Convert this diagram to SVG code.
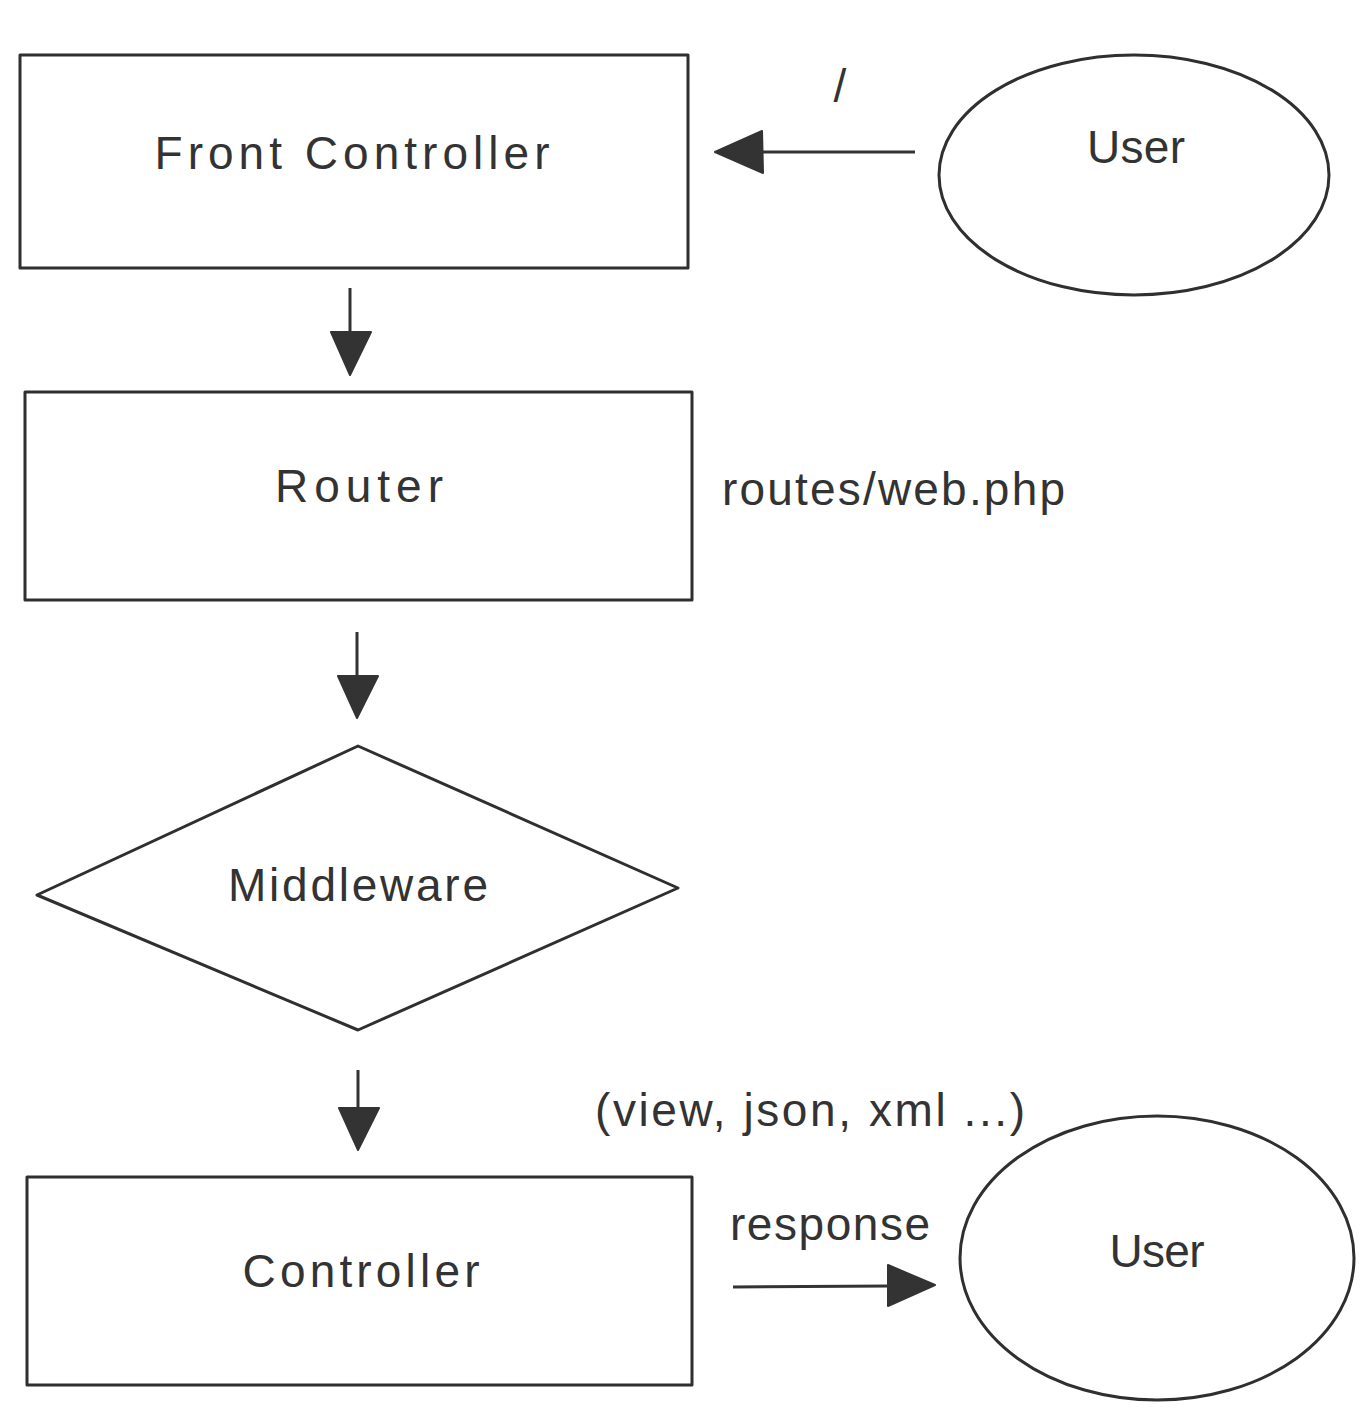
<svg xmlns="http://www.w3.org/2000/svg" width="1368" height="1416" viewBox="0 0 1368 1416">
<style>
.shape{fill:none;stroke:#2f2f2f;stroke-width:3;stroke-linejoin:round}
.conn{fill:none;stroke:#333;stroke-width:3}
.head{fill:#333;stroke:#333;stroke-width:2;stroke-linejoin:round}
.lbl{font-family:"Liberation Sans",Arial,sans-serif;fill:#333;text-anchor:middle;dominant-baseline:middle;font-size:46px}
.note{font-family:"Liberation Sans",Arial,sans-serif;fill:#333;font-size:46px}
</style>
<rect width="1368" height="1416" fill="#fff"/>
<g id="front-controller">
<rect class="shape" x="20" y="55" width="668" height="213"/>
<text class="lbl" x="352" y="157" textLength="395" lengthAdjust="spacing">Front Controller</text>
</g>
<g id="user-top">
<ellipse class="shape" cx="1134" cy="175" rx="195" ry="120"/>
<text class="lbl" x="1136" y="151" textLength="98" lengthAdjust="spacing">User</text>
</g>
<g id="router">
<rect class="shape" x="25" y="392" width="667" height="208"/>
<text class="lbl" x="359" y="490" textLength="168" lengthAdjust="spacing">Router</text>
</g>
<g id="routes-note">
<text class="note" x="722" y="505" textLength="343" lengthAdjust="spacing">routes/web.php</text>
</g>
<g id="middleware">
<polygon class="shape" points="358,746 678,888 358,1030 37,895"/>
<text class="lbl" x="358" y="889" textLength="260" lengthAdjust="spacing">Middleware</text>
</g>
<g id="controller">
<rect class="shape" x="27" y="1177" width="665" height="208"/>
<text class="lbl" x="361" y="1275" textLength="237" lengthAdjust="spacing">Controller</text>
</g>
<g id="user-bottom">
<ellipse class="shape" cx="1157" cy="1258" rx="197" ry="142"/>
<text class="lbl" x="1157" y="1255" textLength="95" lengthAdjust="spacing">User</text>
</g>
<g id="formats-note">
<text class="note" x="595" y="1126" textLength="430" lengthAdjust="spacing">(view, json, xml ...)</text>
</g>
<g id="connectors">
<line class="conn" x1="915" y1="152" x2="760" y2="152"/>
<polygon class="head" points="715,152 762,131 763,173"/>
<text class="note" x="840" y="102" text-anchor="middle">/</text>
<line class="conn" x1="350" y1="288" x2="350" y2="335"/>
<polygon class="head" points="331,332 371,332 350,375"/>
<line class="conn" x1="357" y1="632" x2="357" y2="678"/>
<polygon class="head" points="338,676 378,676 357,718"/>
<line class="conn" x1="358" y1="1070" x2="358" y2="1110"/>
<polygon class="head" points="339,1108 379,1108 358,1150"/>
<line class="conn" x1="733" y1="1287" x2="890" y2="1286"/>
<polygon class="head" points="935,1285 888,1265 888,1306"/>
<text class="note" x="730" y="1240" textLength="200" lengthAdjust="spacing">response</text>
</g>
</svg>
